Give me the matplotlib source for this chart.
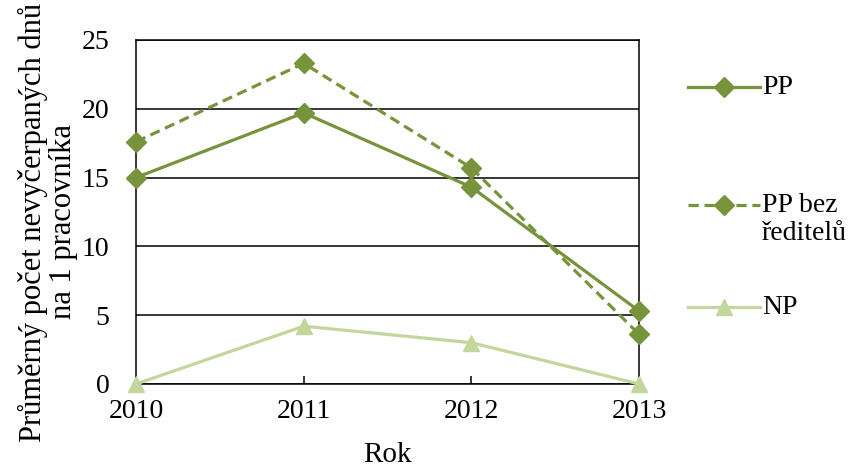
import matplotlib
matplotlib.use("Agg")
import matplotlib.pyplot as plt
from matplotlib.lines import Line2D

plt.rcParams['font.family'] = ['Liberation Serif', 'DejaVu Serif']

years = ["2010", "2011", "2012", "2013"]
pp = [15.0, 19.7, 14.3, 5.3]
pp_bez = [17.6, 23.3, 15.7, 3.6]
np_vals = [0.0, 4.2, 3.0, 0.0]
y_ticks = [0, 5, 10, 15, 20, 25]

dark = "#77933C"
light = "#C3D69B"
dash = (0, (3.2, 1.8))

fig = plt.figure(figsize=(8.5, 4.7), dpi=100)
ax = fig.add_axes([0.16, 0.183, 0.592, 0.732])

x = list(range(len(years)))
ax.plot(x, pp, color=dark, lw=2.3, marker='D', ms=10, clip_on=False, zorder=4)
ax.plot(x, pp_bez, color=dark, lw=2.3, ls=dash, marker='D', ms=10,
        clip_on=False, zorder=4)
ax.plot(x, np_vals, color=light, lw=2.3, marker='^', ms=12, clip_on=False, zorder=3)

ax.set_xlim(0, 3)
ax.set_ylim(0, 25)
ax.set_yticks(y_ticks)
ax.set_xticks(x)
ax.set_xticklabels(years)
ax.yaxis.grid(True, color='black', lw=1.1)
ax.set_axisbelow(True)
for s in ax.spines.values():
    s.set_color('black')
    s.set_linewidth(1.1)
ax.tick_params(axis='y', length=0, labelsize=20, pad=19)
ax.tick_params(axis='x', direction='in', length=6, width=1.1, labelsize=20, pad=11)

ax.set_xlabel("Rok", fontsize=21, labelpad=13)
ax.set_ylabel("Průměrný počet nevyčerpaných dnů\nna 1 pracovníka", fontsize=22,
              linespacing=1.05)
ax.yaxis.set_label_coords(-0.115, 0.471)

# legend drawn at the right of the plot
def legend_entry(y_px, label, ls, marker, color, ms):
    y = 1 - y_px / 470
    x0, x1 = 688 / 850, 760 / 850
    fig.add_artist(Line2D([x0, x1], [y, y], transform=fig.transFigure,
                          color=color, lw=2.3, ls=ls))
    fig.add_artist(Line2D([(x0 + x1) / 2], [y], transform=fig.transFigure,
                          color=color, marker=marker, ms=ms, ls='none'))
    lines = label.split("\n")
    for i, t in enumerate(lines):
        fig.text(762 / 850, y - i * 28 / 470, t, fontsize=20, va='center',
                 ha='left', transform=fig.transFigure)

legend_entry(87, "PP", '-', 'D', dark, 10)
legend_entry(205, "PP bez\nředitelů", dash, 'D', dark, 10)
legend_entry(307, "NP", '-', '^', light, 12)

fig.savefig("out.png", dpi=100)
